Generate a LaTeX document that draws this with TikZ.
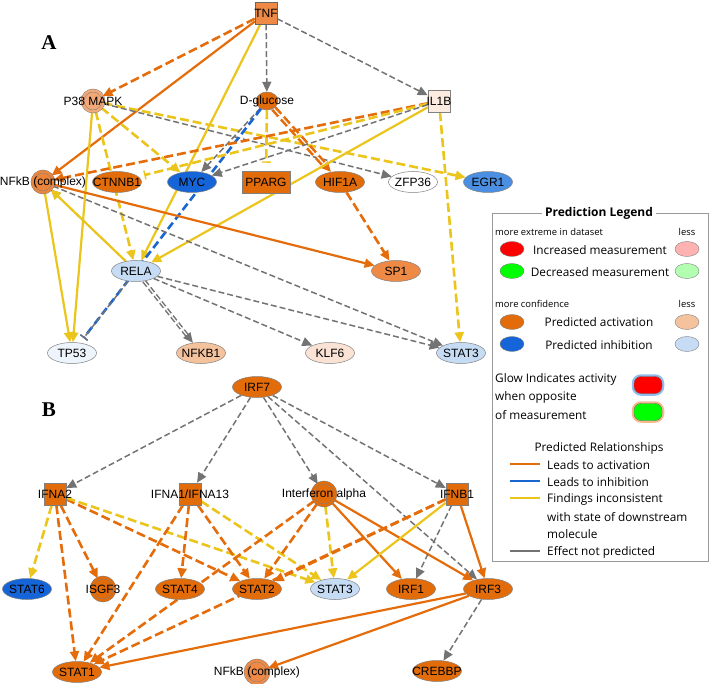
\documentclass[tikz,border=0pt]{standalone}
\usepackage{fontspec}
\setmainfont{Liberation Sans}
\newfontfamily\legendfont{Open Sans}
\newfontfamily\panelfont{Liberation Serif}
\usetikzlibrary{shapes.geometric,arrows.meta,backgrounds}

\definecolor{actorange}{HTML}{E36C0A}
\definecolor{midorange}{HTML}{EE8A45}
\definecolor{softorange}{HTML}{F2A877}
\definecolor{lightorange}{HTML}{F5C29E}
\definecolor{paleorange}{HTML}{FAE3D4}
\definecolor{inhblue}{HTML}{1565D8}
\definecolor{midblue}{HTML}{4A8FE2}
\definecolor{lightblue}{HTML}{C6DCF5}
\definecolor{paleblue}{HTML}{EEF4FC}
\definecolor{relorange}{HTML}{E46C0A}
\definecolor{relyellow}{HTML}{EBC51C}
\definecolor{relgray}{HTML}{737373}
\definecolor{relblue}{HTML}{1A66D0}

\begin{document}
\begin{tikzpicture}[x=1pt,y=-1pt,
  font=\fontsize{12}{13}\selectfont,
  >={Triangle[length=10pt,width=9pt]}
]

  \tikzstyle{nd}=[draw=black!50,line width=0.5pt,inner sep=0pt,
    execute at begin node={\hbox to 0pt\bgroup\hss},
    execute at end node={\hss\egroup}]
  \tikzstyle{gene}=[nd,ellipse,minimum width=49pt,minimum height=21pt]
  \tikzstyle{sq}=[nd,rectangle,minimum size=22pt]
  \tikzset{cplx/.style={nd,circle,minimum size=21pt,fill=#1,double=#1,double distance=2.5pt}}
  \tikzstyle{act}=[->,relorange,line width=2.2pt]
  \tikzstyle{actd}=[act,line width=2.6pt,dash pattern=on 9pt off 4pt]
  \tikzstyle{inc}=[->,relyellow,line width=2.2pt]
  \tikzstyle{incd}=[inc,line width=2.6pt,dash pattern=on 9pt off 4pt]
  \tikzstyle{npd}=[->,relgray,line width=1.5pt,dash pattern=on 6pt off 3pt]
  \tikzstyle{inhd}=[relblue,line width=2.6pt,dash pattern=on 8pt off 4pt]
  \tikzstyle{tee}=[-{Bar[width=9pt,line width=1.4pt]}]
  \tikzstyle{dbl}=[double=white,double distance=1.2pt]
  \tikzstyle{key}=[ellipse,draw=black!50,minimum width=24pt,minimum height=15pt,inner sep=0pt]
  \tikzstyle{lgtxt}=[font=\legendfont\fontsize{11.8}{13}\selectfont,inner sep=0pt]
  \tikzstyle{lgsmall}=[font=\legendfont\fontsize{9.4}{10}\selectfont,inner sep=0pt]
  \tikzstyle{swatch}=[line width=2.8pt]

  \useasboundingbox (0,0) rectangle (709,684);

  % panel A
  \node (lblA) at (49,43) {\panelfont\bfseries\fontsize{21}{21}\selectfont A};
  \node (tnf) [sq,fill=midorange,draw=black!60] at (266,13) {TNF};
  \node (p38) [cplx=softorange] at (93,101) {P38 MAPK};
  \node (glc) [nd,ellipse,fill=actorange,minimum width=22pt,minimum height=18pt] at (267,101) {D-glucose};
  \node (il1b) [sq,fill=paleorange!70!white] at (439,101) {IL1B};
  \node (nfkba) [cplx=midorange!85!actorange] at (43,182) {NFkB (complex)};
  \node (ctnnb1) [gene,fill=actorange] at (117,182) {CTNNB1};
  \node (myc) [gene,fill=inhblue] at (192,182) {MYC};
  \node (pparg) [nd,rectangle,fill=actorange,minimum width=48pt,minimum height=22pt] at (266,182) {PPARG};
  \node (hif1a) [gene,fill=actorange] at (340,182) {HIF1A};
  \node (zfp36) [gene,fill=white] at (413,182) {ZFP36};
  \node (egr1) [gene,fill=midblue] at (488,182) {EGR1};
  \node (rela) [gene,fill=lightblue] at (136,271) {RELA};
  \node (sp1) [gene,fill=midorange] at (396,271) {SP1};
  \node (tp53) [gene,fill=paleblue] at (72,353) {TP53};
  \node (nfkb1) [gene,fill=lightorange] at (201,353) {NFKB1};
  \node (klf6) [gene,fill=paleorange] at (330,353) {KLF6};
  \node (stata) [gene,fill=lightblue] at (461,353) {STAT3};

  % panel B
  \node (lblB) at (49,410) {\panelfont\bfseries\fontsize{21}{21}\selectfont B};
  \node (irf7) [gene,fill=actorange] at (257,387) {IRF7};
  \node (ifna2) [sq,fill=actorange] at (55,494) {IFNA2};
  \node (ifna1) [sq,fill=actorange] at (190,494) {IFNA1/IFNA13};
  \node (ifna) [cplx=actorange,minimum size=23pt] at (324,494) {Interferon alpha};
  \node (ifnb1) [sq,fill=actorange] at (457,494) {IFNB1};
  \node (stat6) [gene,fill=inhblue] at (27,589) {STAT6};
  \node (isgf3) [cplx=actorange,minimum size=23pt] at (103,589) {ISGF3};
  \node (stat4) [gene,fill=actorange] at (180,589) {STAT4};
  \node (stat2) [gene,fill=actorange] at (257,589) {STAT2};
  \node (statb) [gene,fill=lightblue] at (335,589) {STAT3};
  \node (irf1) [gene,fill=actorange] at (411,589) {IRF1};
  \node (irf3) [gene,fill=actorange] at (488,589) {IRF3};
  \node (stat1) [gene,fill=actorange] at (77,672) {STAT1};
  \node (nfkbb) [cplx=midorange,minimum size=23pt] at (257,672) {NFkB (complex)};
  \node (crebbp) [gene,fill=actorange] at (437,671) {CREBBP};

  \begin{pgfonlayer}{background}
  \draw [actd] (tnf) -- (p38);
  \draw [act] (tnf) -- (nfkba);
  \draw [inc] (tnf) -- (rela);
  \draw [npd] (tnf) -- (glc);
  \draw [npd] (tnf) -- (il1b);
  \draw [inc] (p38) -- (tp53);
  \draw [incd] (p38) -- (rela);
  \draw [incd] (p38) -- (myc);
  \draw [incd] (p38) -- (egr1);
  \draw [npd] (p38) -- (zfp36);
  \draw [npd] (glc) -- (myc);
  \draw [inhd,tee,shorten >=6pt] (glc) -- (tp53);
  \draw [incd,tee,shorten >=8pt] (glc) -- (pparg);
  \draw [actd,dbl] (glc) -- (hif1a);
  \draw [actd] (il1b) -- (nfkba);
  \draw [incd,tee,shorten >=6pt] (il1b) -- (ctnnb1);
  \draw [npd] (il1b) -- (myc);
  \draw [inc] (il1b) -- (rela);
  \draw [incd] (il1b) -- (stata);
  \draw [inc] (nfkba) -- (tp53);
  \draw [act] (nfkba) -- (sp1);
  \draw [npd] (nfkba) -- (stata);
  \draw [npd] (rela) -- (nfkba);
  \draw [inc] (rela) -- (nfkba);
  \draw [npd,tee,shorten >=6pt] (rela) -- (tp53);
  \draw [npd,dbl] (rela) -- (nfkb1);
  \draw [npd] (rela) -- (klf6);
  \draw [npd] (rela) -- (stata);
  \draw [actd] (hif1a) -- (sp1);

  \draw [npd] (irf7) -- (ifna2);
  \draw [npd] (irf7) -- (ifna1);
  \draw [npd] (irf7) -- (ifna);
  \draw [npd] (irf7) -- (ifnb1);
  \draw [npd] (irf7) -- (irf3);
  \draw [incd] (ifna2) -- (stat6);
  \draw [actd] (ifna2) -- (isgf3);
  \draw [actd] (ifna2) -- (stat1);
  \draw [actd] (ifna2) -- (stat2);
  \draw [incd] (ifna2) -- (statb);
  \draw [actd] (ifna1) -- (stat1);
  \draw [actd] (ifna1) -- (stat4);
  \draw [actd] (ifna1) -- (stat2);
  \draw [incd] (ifna1) -- (statb);
  \draw [actd] (ifna) -- (stat1);
  \draw [actd] (ifna) -- (stat2);
  \draw [incd] (ifna) -- (statb);
  \draw [act] (ifna) -- (irf1);
  \draw [act] (ifna) -- (irf3);
  \draw [actd] (ifnb1) -- (stat2);
  \draw [actd] (ifnb1) -- (stat1);
  \draw [inc] (ifnb1) -- (statb);
  \draw [npd] (ifnb1) -- (irf1);
  \draw [act] (ifnb1) -- (irf3);
  \draw [act] (irf3) -- (stat1);
  \draw [act] (irf3) -- (nfkbb);
  \draw [npd] (irf3) -- (crebbp);
  \end{pgfonlayer}

  % legend
  \draw [black!40,line width=0.9pt] (492,213) rectangle (708,561);
  \node (lgtitle) [lgtxt,fill=white,inner xsep=3pt,font=\legendfont\bfseries\fontsize{12}{13}\selectfont] at (599,213) {Prediction Legend};
  \node (lgext) [lgsmall,anchor=west] at (495,232) {more extreme in dataset};
  \node (lgless1) [lgsmall] at (687,232) {less};
  \node (kred) [key,fill=red] at (512,249) {};
  \node (tinc) [lgtxt] at (600,250) {Increased measurement};
  \node (kpink) [key,fill=red!30!white] at (687,249) {};
  \node (kgreen) [key,fill=green] at (512,271) {};
  \node (tdec) [lgtxt] at (600,272) {Decreased measurement};
  \node (klgreen) [key,fill=green!30!white] at (687,271) {};
  \node (lgconf) [lgsmall,anchor=west] at (495,304) {more confidence};
  \node (lgless2) [lgsmall] at (687,304) {less};
  \node (korange) [key,fill=actorange] at (512,322) {};
  \node (tact) [lgtxt] at (599,322) {Predicted activation};
  \node (klorange) [key,fill=lightorange] at (687,322) {};
  \node (kblue) [key,fill=inhblue] at (512,344) {};
  \node (tinh) [lgtxt] at (599,345) {Predicted inhibition};
  \node (klblue) [key,fill=lightblue] at (687,344) {};
  \node (tglow1) [lgtxt,anchor=west] at (495,379) {Glow Indicates activity};
  \node (tglow2) [lgtxt,anchor=west] at (495,397) {when opposite};
  \node (tglow3) [lgtxt,anchor=west] at (495,415) {of measurement};
  \node (gred) [rectangle,rounded corners=7pt,minimum width=28pt,minimum height=17pt,
    fill=red,draw=black!60,preaction={draw=midblue!60,line width=4.5pt}] at (648,385) {};
  \node (ggreen) [rectangle,rounded corners=7pt,minimum width=28pt,minimum height=17pt,
    fill=green,draw=black!60,preaction={draw=softorange!80,line width=4.5pt}] at (648,412) {};
  \node (trel) [lgtxt] at (599,448) {Predicted Relationships};
  \draw [swatch,relorange] (510,464) -- (540,464);
  \node (trel1) [lgtxt,anchor=west] at (547,465) {Leads to activation};
  \draw [swatch,relblue] (510,481) -- (540,481);
  \node (trel2) [lgtxt,anchor=west] at (547,482) {Leads to inhibition};
  \draw [swatch,relyellow] (510,498) -- (540,498);
  \node (trel3) [lgtxt,anchor=west] at (547,499) {Findings inconsistent};
  \node (trel3b) [lgtxt,anchor=west] at (547,517) {with state of downstream};
  \node (trel3c) [lgtxt,anchor=west] at (547,534) {molecule};
  \draw [swatch,relgray] (510,551) -- (540,551);
  \node (trel4) [lgtxt,anchor=west] at (547,552) {Effect not predicted};

\end{tikzpicture}
\end{document}
